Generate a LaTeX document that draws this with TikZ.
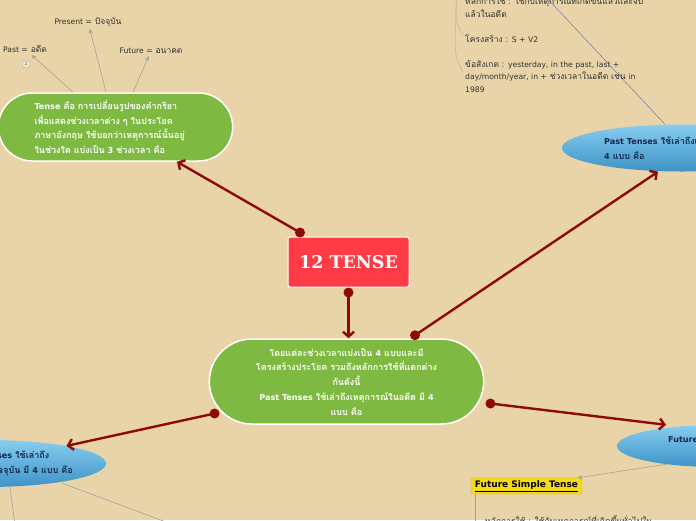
\documentclass[tikz,border=0pt]{standalone}
\usepackage{fontspec}
\setmainfont{DejaVu Serif}
\newfontfamily\thaifont[Script=Thai]{Loma}
\newfontfamily\latnfont[Scale=0.9]{DejaVu Sans}
\newcommand{\latn}[1]{{\latnfont #1}}
\usetikzlibrary{arrows.meta, calc, shapes.geometric, shapes.misc}
\definecolor{mapbg}{HTML}{E8D4A8}
\definecolor{maproot}{HTML}{FF3B46}
\definecolor{mapgreen}{HTML}{7EBA41}
\definecolor{mapred}{HTML}{8E0A05}
\definecolor{mapnavy}{HTML}{16264F}
\definecolor{mapblueA}{HTML}{86CDF0}
\definecolor{mapblueB}{HTML}{3E93C6}
\definecolor{mapgray}{HTML}{A3A29C}
\definecolor{mapbranch}{HTML}{CDBD98}
\definecolor{mapyellow}{HTML}{F5DA1C}

\begin{document}
\begin{tikzpicture}[x=1pt, y=-1pt,
    rootbox/.style={draw=white, line width=1pt, fill=maproot, rounded corners=2pt,
                    minimum width=121pt, minimum height=50pt, text=white,
                    font=\bfseries\fontsize{17.5}{20}\selectfont},
    topic/.style={rounded rectangle, draw=white, line width=1.5pt, fill=mapgreen,
                  text=white, font=\thaifont\bfseries\fontsize{9}{14.8}\selectfont},
    bubble/.style={ellipse, top color=mapblueA, bottom color=mapblueB,
                   minimum height=47pt},
    bubbletext/.style={anchor=west, align=left, inner sep=0pt, text=mapnavy,
                       font=\thaifont\bfseries\fontsize{9}{15}\selectfont},
    leaf/.style={align=left, inner sep=0pt, text=black!80,
                 font=\thaifont\fontsize{8.5}{12.6}\selectfont},
    tag/.style={inner sep=2pt, text=black!80, font=\thaifont\fontsize{8.5}{10}\selectfont},
    link/.style={mapred, line width=2.4pt, -{Straight Barb[length=5pt, width=11pt]}},
    twig/.style={mapgray, line width=0.6pt, -{Stealth[length=5pt, width=4pt]}},
    branch/.style={mapbranch, line width=0.8pt},
    simplebox/.style={fill=mapyellow, draw=mapyellow!85!black, rounded corners=2pt,
                      minimum width=111pt, minimum height=16pt, inner sep=1pt,
                      font=\latnfont\bfseries\fontsize{10}{11}\selectfont}
  ]
    \useasboundingbox (0,0) rectangle (696,520);
    \clip (0,0) rectangle (696,520);
    \fill[mapbg] (0,0) rectangle (696,520);

    \node[rootbox] (root) at (348.5,262) {12 TENSE};

    \node[topic, minimum width=281pt, minimum height=85pt, align=center] (main)
      at (346.5,381.5)
      {โดยแต่ละช่วงเวลาแบ่งเป็น \latn{4} แบบและมี\\
       โครงสร้างประโยค รวมถึงหลักการใช้ที่แตกต่าง\\
       กันดังนี้\\
       \latn{Past Tenses} ใช้เล่าถึงเหตุการณ์ในอดีต มี \latn{4}\\
       แบบ คือ};

    \node[topic, minimum width=241pt, minimum height=68pt, text width=162pt,
          align=left] (tenseDef) at (115.5,127)
      {\latn{Tense} คือ การเปลี่ยนรูปของคำกริยา\\
       เพื่อแสดงช่วงเวลาต่าง ๆ ในประโยค\\
       ภาษาอังกฤษ ใช้บอกว่าเหตุการณ์นั้นอยู่\\
       ในช่วงใด แบ่งเป็น \latn{3} ช่วงเวลา คือ};

    \node[tag] (pastLbl) at (25,49) {\latn{Past =} อดีต};
    \node[tag] (presLbl) at (88,22) {\latn{Present =} ปัจจุบัน};
    \node[tag] (futLbl) at (151,51) {\latn{Future =} อนาคต};
    \node[draw=black!35, fill=mapbg!60!white, rounded corners=1pt, inner sep=1pt,
          minimum size=7pt, text=black!60, font=\latnfont\fontsize{5}{5}\selectfont]
      (pastBadge) at (26,64) {2};

    \draw[twig] (tenseDef.north -| 73,0) -- (pastLbl);
    \draw[twig] (tenseDef.north -| 106,0) -- (presLbl);
    \draw[twig] (tenseDef.north -| 133,0) -- (futLbl);

    % Past Tenses
    \node[bubble, minimum width=240pt] (pastT) at (682,148) {};
    \node[bubbletext] (pastTxt) at (604,148.5)
      {\latn{Past Tenses} ใช้เล่าถึงเหตุการณ์ในอดีต มี\\\latn{4} แบบ คือ};
    \coordinate (pastUp) at (545,-4);
    \draw[mapgray!80!blue, line width=0.6pt] (pastT.north -| 665,0) -- (pastUp);

    \node[leaf, anchor=west] (pastUse) at (465,6.5)
      {หลักการใช้ : ใช้กับเหตุการณ์ที่เกิดขึ้นแล้วและจบ\\แล้วในอดีต};
    \node[leaf, anchor=west] (pastForm) at (465,39) {โครงสร้าง : \latn{S + V2}};
    \node[leaf, anchor=west] (pastNote) at (465,76.5)
      {ข้อสังเกต : \latn{yesterday, in the past, last +}\\
       \latn{day/month/year, in +} ช่วงเวลาในอดีต เช่น \latn{in}\\
       \latn{1989}};
    \coordinate (pastHub) at (457,-6);
    \draw[branch] (pastHub) .. controls (455,20) .. ($(pastForm.west)+(-2,-4)$);
    \draw[branch] (pastHub) .. controls (454,55) .. ($(pastNote.west)+(-2,-4)$);

    % Present Tenses
    \node[bubble, minimum width=240pt] (presT) at (-14,463.5) {};
    \node[bubbletext] (presTxt) at (-57,463)
      {\latn{Present Tenses} ใช้เล่าถึง\\เหตุการณ์ในปัจจุบัน มี \latn{4} แบบ คือ};
    \coordinate (presDownA) at (15,525);
    \coordinate (presDownB) at (174,525);
    \draw[mapgray, line width=0.6pt] (presT.south -| 10,0) -- (presDownA);
    \draw[mapgray, line width=0.6pt] ($(presT.south -| 62,0)+(0,-4)$) -- (presDownB);

    % Future Tenses
    \node[bubble, minimum width=200pt, minimum height=42pt] (futT) at (717,446) {};
    \node[bubbletext] (futTxt) at (668,440)
      {\latn{Future Tenses} ใช้เล่าถึงเหตุการณ์ในอนาคต};

    \node[simplebox] (futSimple) at (526.5,486) {\underline{Future Simple Tense}};
    \draw[twig] ($(futT.south -| 667,0)+(0,-3)$) -- ($(futSimple.north east)+(-5,0)$);
    \coordinate (futDown) at (475,525);
    \draw[mapgray, line width=0.6pt] (futSimple.south -| futDown) -- (futDown);
    \node[leaf, anchor=west] (futUse) at (485,521)
      {หลักการใช้ : ใช้กับเหตุการณ์ที่เกิดขึ้นทั่วไปใน};

    % red connectors
    \coordinate (rootA) at ($(root.north -| 300,0)+(0,-4)$);
    \coordinate (rootB) at ($(root.south)+(0,5)$);
    \coordinate (mainA) at ($(main.north -| 415,0)+(0,-3)$);
    \coordinate (mainB) at ($(main.west)+(6,32)$);
    \coordinate (mainC) at ($(main.east)+(6,22)$);

    \draw[link] (rootA) -- (tenseDef.south -| 177,0);
    \draw[link] (rootB) -- (main.north -| rootB);
    \draw[link] (mainA) -- (pastT.south -| 658,0);
    \draw[link] (mainB) -- (presT);
    \draw[link] (mainC) -- (futT.north -| 666,0);
    \foreach \d in {rootA, rootB, mainA, mainB, mainC}
      \fill[mapred] (\d) circle (5pt);
  \end{tikzpicture}
\end{document}
